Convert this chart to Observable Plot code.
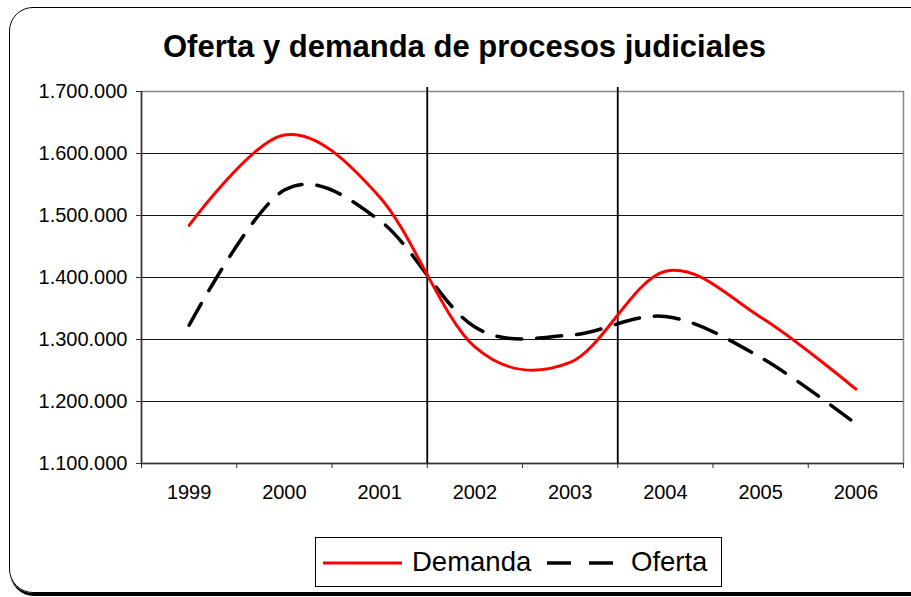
<!DOCTYPE html>
<html><head><meta charset="utf-8">
<script src="https://cdn.jsdelivr.net/npm/d3@7"></script>
<script src="https://cdn.jsdelivr.net/npm/@observablehq/plot@0.6"></script>
<style>
body{margin:0;background:#fff;font-family:"Liberation Sans",Arial,sans-serif;}
#wrap{position:relative;width:911px;height:597px;overflow:hidden;background:#fff;}
#border{position:absolute;left:9px;top:7px;width:930px;height:586px;box-sizing:border-box;border:1.5px solid #000;border-radius:24px;box-shadow:1px 3px 0 #000;}
#title{position:absolute;left:0;top:31px;width:929px;text-align:center;font-weight:bold;font-size:31px;line-height:31px;color:#000;white-space:nowrap;}
#chart{position:absolute;left:0;top:75px;}
#legend{position:absolute;left:315px;top:537px;width:407px;height:50px;}
</style>
</head><body>
<div id="wrap">
  <div id="border"></div>
  <div id="title">Oferta y demanda de procesos judiciales</div>
  <div id="chart"></div>
  <div id="legend"></div>
</div>
<script>
const years = [1999, 2000, 2001, 2002, 2003, 2004, 2005, 2006];
const demanda = [1484000, 1630000, 1530000, 1288000, 1263000, 1410000, 1336000, 1220000];
const oferta = [1323000, 1541000, 1492000, 1320000, 1307000, 1337000, 1271000, 1164000];
const yTicks = [1100000, 1200000, 1300000, 1400000, 1500000, 1600000, 1700000];
const periodBreaksAfter = [2001, 2003];
const seriesNames = ["Demanda", "Oferta"];

const xDomain = [years[0] - 0.5, years[years.length - 1] + 0.5];
const yDomain = [yTicks[0], yTicks[yTicks.length - 1]];
const boundaries = years.map(y => y - 0.5).concat([xDomain[1]]);
const fmt = d3.formatLocale({decimal: ",", thousands: ".", grouping: [3], currency: ["", ""]}).format(",.0f");

const dem = years.map((y, i) => ({year: y, value: demanda[i]}));
const ofe = years.map((y, i) => ({year: y, value: oferta[i]}));

const plot = Plot.plot({
  width: 911,
  height: 433,
  marginTop: 16,
  marginBottom: 45,
  marginLeft: 141,
  marginRight: 8,
  style: {fontFamily: '"Liberation Sans", Arial, sans-serif', color: "#000", background: "transparent"},
  x: {domain: xDomain},
  y: {domain: yDomain},
  marks: [
    Plot.frame({stroke: "#888", strokeWidth: 1.5}),
    Plot.gridY({ticks: yTicks.slice(1, -1), stroke: "#111", strokeOpacity: 1, strokeWidth: 1}),
    Plot.ruleX([xDomain[0]], {stroke: "#333", strokeWidth: 1.5}),
    Plot.ruleY([yDomain[0]], {stroke: "#333", strokeWidth: 1.5}),
    Plot.axisY({ticks: yTicks, tickFormat: fmt, tickSize: 5, tickPadding: 9, fontSize: 20, label: null, stroke: "#333"}),
    Plot.axisX({ticks: boundaries, tickFormat: () => "", tickSize: 5, label: null, stroke: "#333"}),
    Plot.axisX({ticks: years, tickFormat: d => String(d), tickSize: 0, tickPadding: 21, fontSize: 20, label: null}),
    Plot.ruleX(periodBreaksAfter, {x: d => d + 0.5, stroke: "#000", strokeWidth: 1.8, insetTop: -4}),
    Plot.line(ofe, {x: "year", y: "value", stroke: "#000", strokeWidth: 3.5, strokeDasharray: "25,15", curve: "cardinal", tension: 0}),
    Plot.line(dem, {x: "year", y: "value", stroke: "#ff0000", strokeWidth: 3, curve: "cardinal", tension: 0})
  ]
});
document.getElementById("chart").appendChild(plot);

// legend
const lg = d3.select("#legend").append("svg").attr("width", 407).attr("height", 50)
  .style("font-family", '"Liberation Sans", Arial, sans-serif');
lg.append("rect").attr("x", 0.5).attr("y", 0.5).attr("width", 406).attr("height", 49)
  .attr("fill", "#fff").attr("stroke", "#000").attr("stroke-width", 1);
lg.append("line").attr("x1", 8).attr("x2", 87).attr("y1", 26).attr("y2", 26)
  .attr("stroke", "#ff0000").attr("stroke-width", 3);
lg.append("text").attr("x", 97).attr("y", 34).attr("font-size", 27.5).text(seriesNames[0]);
lg.append("line").attr("x1", 232).attr("x2", 298).attr("y1", 26).attr("y2", 26)
  .attr("stroke", "#000").attr("stroke-width", 3.5).attr("stroke-dasharray", "24,18");
lg.append("text").attr("x", 316).attr("y", 34).attr("font-size", 27.5).text(seriesNames[1]);
</script>
</body></html>
